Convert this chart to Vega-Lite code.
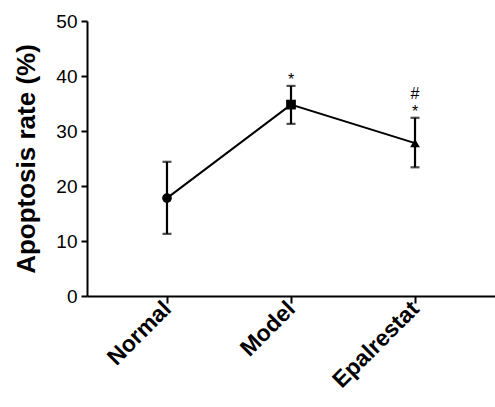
{
  "$schema": "https://vega.github.io/schema/vega-lite/v6.json",
  "autosize": {"type": "none"},
  "padding": {"left": 87, "top": 21, "right": 0, "bottom": 111},
  "width": 408,
  "height": 275,
  "background": "white",
  "config": {
    "view": {"stroke": null},
    "font": "Liberation Sans",
    "axis": {"grid": false, "domainColor": "black", "tickColor": "black", "labelColor": "black", "titleColor": "black", "domainWidth": 2, "tickWidth": 2}
  },
  "datasets": {
    "groups": [
      {"group": "Normal", "mean": 17.8, "lo": 11.3, "hi": 24.4},
      {"group": "Model", "mean": 34.8, "lo": 31.3, "hi": 38.2},
      {"group": "Epalrestat", "mean": 27.8, "lo": 23.4, "hi": 32.4}
    ],
    "marks": [
      {"group": "Model", "y": 39.3, "label": "*"},
      {"group": "Epalrestat", "y": 36.8, "label": "#"},
      {"group": "Epalrestat", "y": 33.5, "label": "*"}
    ]
  },
  "layer": [
    {
      "data": {"name": "groups"},
      "mark": {"type": "rule", "stroke": "black", "strokeWidth": 2.2},
      "encoding": {
        "x": {"field": "group", "type": "nominal", "sort": null,
              "scale": {"type": "point", "domain": ["Normal", "Model", "Epalrestat"], "padding": 0.645},
              "axis": {"title": null, "labelAngle": -45, "labelAlign": "right", "labelBaseline": "middle", "labelFontSize": 23, "labelFontWeight": "bold", "tickSize": 7, "labelPadding": 2, "labelFont": "Liberation Sans"}},
        "y": {"field": "lo", "type": "quantitative",
              "scale": {"domain": [0, 50], "nice": false},
              "axis": {"title": "Apoptosis rate (%)", "values": [0, 10, 20, 30, 40, 50], "labelFontSize": 19, "tickSize": 6, "labelPadding": 4, "titleFontSize": 26, "titleFontWeight": "bold", "titlePadding": 16}},
        "y2": {"field": "hi"}
      }
    },
    {
      "data": {"name": "groups"},
      "mark": {"type": "tick", "orient": "horizontal", "size": 9, "thickness": 2.2, "color": "black"},
      "encoding": {
        "x": {"field": "group", "type": "nominal", "sort": null},
        "y": {"field": "lo", "type": "quantitative"}
      }
    },
    {
      "data": {"name": "groups"},
      "mark": {"type": "tick", "orient": "horizontal", "size": 9, "thickness": 2.2, "color": "black"},
      "encoding": {
        "x": {"field": "group", "type": "nominal", "sort": null},
        "y": {"field": "hi", "type": "quantitative"}
      }
    },
    {
      "data": {"name": "groups"},
      "mark": {"type": "line", "stroke": "black", "strokeWidth": 2},
      "encoding": {
        "x": {"field": "group", "type": "nominal", "sort": null},
        "y": {"field": "mean", "type": "quantitative"}
      }
    },
    {
      "data": {"name": "groups"},
      "mark": {"type": "point", "filled": true, "color": "black", "opacity": 1},
      "encoding": {
        "x": {"field": "group", "type": "nominal", "sort": null},
        "y": {"field": "mean", "type": "quantitative"},
        "shape": {"field": "group", "type": "nominal",
                  "scale": {"domain": ["Normal", "Model", "Epalrestat"], "range": ["circle", "square", "triangle-up"]},
                  "legend": null},
        "size": {"value": 95}
      }
    },
    {
      "data": {"name": "marks"},
      "mark": {"type": "text", "color": "black", "fontSize": 16, "baseline": "middle", "align": "center"},
      "encoding": {
        "x": {"field": "group", "type": "nominal", "sort": null},
        "y": {"field": "y", "type": "quantitative"},
        "text": {"field": "label"}
      }
    }
  ]
}
